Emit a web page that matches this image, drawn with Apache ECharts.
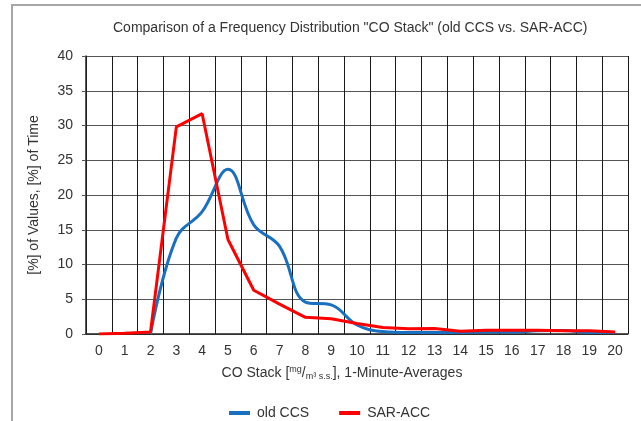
<!DOCTYPE html>
<html>
<head>
<meta charset="utf-8">
<script src="https://cdn.jsdelivr.net/npm/echarts@6/dist/echarts.min.js"></script>
<style>html,body{margin:0;padding:0;background:#fff}#c{width:641px;height:421px}</style>
</head>
<body>
<div id="c"></div>
<script>
var categories = ['0','1','2','3','4','5','6','7','8','9','10','11','12','13','14','15','16','17','18','19','20'];
var oldCCS = [null, null, 0, 13.8, 17.6, 23.7, 15.7, 12.6, 4.6, 4.2, 1.3, 0.35, 0.2, 0.2, 0.2, 0.3, 0.3, 0.45, 0.5, 0.2, 0.2];
var sarACC = [0, 0.1, 0.3, 29.8, 31.7, 13.6, 6.3, 4.3, 2.4, 2.2, 1.5, 0.95, 0.75, 0.8, 0.4, 0.55, 0.55, 0.55, 0.45, 0.45, 0.3];
var yTicks = { min: 0, max: 40, interval: 5 };

var chart = echarts.init(document.getElementById('c'), null, { renderer: 'canvas' });
var font = 'Liberation Sans, Arial, sans-serif';
var txt = '#333';
chart.setOption({
  backgroundColor: '#fff',
  animation: false,
  title: {
    text: 'Comparison of a Frequency Distribution "CO Stack" (old CCS vs. SAR-ACC)',
    left: 113, top: 21, padding: 0,
    textStyle: { fontFamily: font, fontSize: 14, fontWeight: 'normal', color: txt }
  },
  graphic: [{
    type: 'polyline',
    shape: { points: [[12, 421], [12, 5], [641, 5]] },
    style: { stroke: '#a6a6a6', lineWidth: 2, fill: null },
    silent: true
  }],
  legend: {
    left: 224, top: 401,
    itemWidth: 21, itemHeight: 4, itemGap: 30,
    icon: 'rect',
    textStyle: { fontFamily: font, fontSize: 14, color: txt, padding: [0, 0, 0, 2] },
    data: ['old CCS', 'SAR-ACC']
  },
  grid: { left: 86, right: 13, top: 56, bottom: 87, containLabel: false },
  xAxis: {
    type: 'category',
    data: categories,
    boundaryGap: true,
    axisLine: { lineStyle: { color: '#222', width: 1.5 } },
    axisTick: { show: false },
    axisLabel: { fontFamily: font, fontSize: 14, color: txt, margin: 10, interval: 0 },
    splitLine: { show: true, interval: 0, lineStyle: { color: '#1a1a1a', width: 1 } },
    name: 'CO Stack [{sup|mg}/{sub|m³ s.s.}], 1-Minute-Averages',
    nameLocation: 'middle', nameGap: 31,
    nameTextStyle: {
      fontFamily: font, fontSize: 14, color: txt, lineHeight: 16, padding: [0, 30, 0, 0],
      rich: {
        sup: { fontSize: 9, verticalAlign: 'top', lineHeight: 16, fontFamily: font, color: txt },
        sub: { fontSize: 9, verticalAlign: 'bottom', lineHeight: 16, fontFamily: font, color: txt }
      }
    }
  },
  yAxis: {
    type: 'value',
    min: yTicks.min, max: yTicks.max, interval: yTicks.interval,
    axisLine: { show: true, lineStyle: { color: '#222', width: 1.5 } },
    axisTick: { show: true, length: 4, lineStyle: { color: '#555' } },
    axisLabel: { fontFamily: font, fontSize: 14, color: txt, margin: 13 },
    splitLine: { show: true, lineStyle: { color: '#555', width: 1 } },
    name: '[%] of Values, [%] of Time',
    nameLocation: 'middle', nameGap: 45,
    nameTextStyle: { fontFamily: font, fontSize: 14, color: txt }
  },
  series: [{
    name: 'old CCS', type: 'line', data: oldCCS,
    smooth: 0.4, showSymbol: false, connectNulls: false,
    lineStyle: { color: '#1a70c0', width: 3 },
    itemStyle: { color: '#1a70c0' }
  }, {
    name: 'SAR-ACC', type: 'line', data: sarACC,
    smooth: false, showSymbol: false,
    lineStyle: { color: '#ff0000', width: 3 },
    itemStyle: { color: '#ff0000' }
  }]
});
</script>
</body>
</html>
